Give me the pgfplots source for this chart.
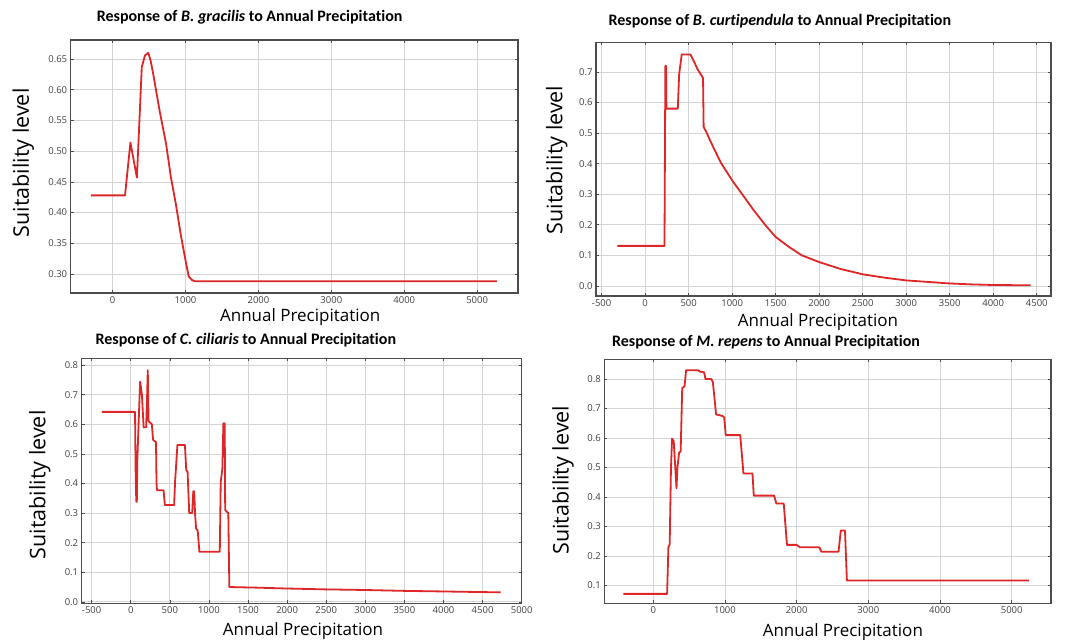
\documentclass[border=0pt]{standalone}
\usepackage{pgfplots}
\pgfplotsset{compat=1.18}
\usepackage{fontspec}
\setmainfont{Open Sans}
\newfontfamily\titlefont[Ligatures=NoCommon]{Carlito}

\definecolor{curvered}{RGB}{222,38,38}

\pgfplotsset{
  panel/.style={
    scale only axis,
    anchor=south west,
    axis line style={black!70, line width=1.1pt},
    grid=major,
    major grid style={black!17, line width=0.7pt},
    tick align=inside,
    major tick length=3pt,
    tick style={black!70, line width=0.6pt},
    ticklabel style={font=\fontsize{9.5}{10}\selectfont, text=black!75},
    xlabel style={font=\fontsize{17}{19}\selectfont, anchor=center},
    ylabel style={font=\fontsize{21.5}{23}\selectfont, anchor=center},
    title style={font=\titlefont\bfseries\fontsize{16}{18}\selectfont, anchor=center},
    xlabel={Annual Precipitation},
    ylabel={Suitability level},
  },
  curve/.style={color=curvered, line width=1.8pt, line join=round, no markers},
}

\begin{document}
\begin{tikzpicture}
\useasboundingbox (0,0) rectangle (1075pt,643pt);

% top left: B. gracilis
\begin{axis}[panel,
    at={(70.7pt,350pt)}, width=447.3pt, height=253pt,
    xmin=-575, xmax=5560, ymin=0.269, ymax=0.681,
    xtick={0,1000,2000,3000,4000,5000},
    xticklabels={0,1000,2000,3000,4000,5000},
    ytick={0.30,0.35,0.40,0.45,0.50,0.55,0.60,0.65},
    yticklabels={0.30,0.35,0.40,0.45,0.50,0.55,0.60,0.65},
    title={Response of \textit{B. gracilis} to Annual Precipitation},
    title style={at={(axis description cs:0.40,1)}, yshift=17pt},
    xlabel style={at={(axis description cs:0.513,0)}, yshift=-24pt},
    ylabel style={at={(axis description cs:-0.106,0.514)}},
  ]
\addplot[curve] coordinates {
(-300,0.428) (170,0.428) (244,0.514) (333,0.457) (400,0.637) (444,0.656)
(489,0.660) (520,0.648) (556,0.626) (644,0.566) (733,0.512) (800,0.457)
(867,0.414) (933,0.365) (1000,0.322) (1044,0.296) (1090,0.290) (1133,0.288)
(5270,0.288)
};
\end{axis}

% top right: B. curtipendula
\begin{axis}[panel,
    at={(596pt,347pt)}, width=455pt, height=253.7pt,
    xmin=-565, xmax=4664, ymin=-0.033, ymax=0.797,
    xtick={-500,0,500,1000,1500,2000,2500,3000,3500,4000,4500},
    xticklabels={-500,0,500,1000,1500,2000,2500,3000,3500,4000,4500},
    ytick={0,0.1,0.2,0.3,0.4,0.5,0.6,0.7},
    yticklabels={0.0,0.1,0.2,0.3,0.4,0.5,0.6,0.7},
    title={Response of \textit{B. curtipendula} to Annual Precipitation},
    title style={at={(axis description cs:0.404,1)}, yshift=15pt},
    xlabel style={at={(axis description cs:0.488,0)}, yshift=-26pt},
    ylabel style={at={(axis description cs:-0.086,0.536)}},
  ]
\addplot[curve] coordinates {
(-320,0.131) (222,0.131) (232,0.72) (240,0.72) (244,0.58) (375,0.58)
(390,0.69) (398,0.71) (420,0.757) (520,0.757) (560,0.735) (600,0.71)
(665,0.68) (672,0.52) (700,0.505) (759,0.468) (870,0.403) (1000,0.345)
(1130,0.294) (1241,0.250) (1389,0.196) (1500,0.160) (1650,0.128)
(1800,0.100) (2000,0.078) (2250,0.055) (2500,0.038) (2750,0.027)
(3000,0.018) (3250,0.013) (3500,0.008) (3750,0.005) (4000,0.003)
(4430,0.002)
};
\end{axis}

% bottom left: C. ciliaris
\begin{axis}[panel,
    at={(81.7pt,39.7pt)}, width=440pt, height=245pt,
    xmin=-627, xmax=5000, ymin=-0.005, ymax=0.823,
    xtick={-500,0,500,1000,1500,2000,2500,3000,3500,4000,4500,5000},
    xticklabels={-500,0,500,1000,1500,2000,2500,3000,3500,4000,4500,5000},
    ytick={0,0.1,0.2,0.3,0.4,0.5,0.6,0.7,0.8},
    yticklabels={0.0,0.1,0.2,0.3,0.4,0.5,0.6,0.7,0.8},
    title={Response of \textit{C. ciliaris} to Annual Precipitation},
    title style={at={(axis description cs:0.373,1)}, yshift=12pt},
    xlabel style={at={(axis description cs:0.503,0)}, yshift=-28pt},
    ylabel style={at={(axis description cs:-0.095,0.483)}},
  ]
\addplot[curve] coordinates {
(-370,0.642) (55,0.642) (62,0.45) (71,0.338) (78,0.338) (85,0.485)
(120,0.744) (143,0.70) (165,0.59) (197,0.59) (210,0.70) (218,0.783)
(228,0.61) (260,0.603) (270,0.60) (285,0.55) (290,0.546) (323,0.54)
(330,0.40) (336,0.377) (420,0.377) (437,0.327) (555,0.327) (567,0.405)
(597,0.53) (693,0.53) (710,0.445) (727,0.44) (748,0.30) (786,0.30)
(800,0.374) (812,0.374) (822,0.30) (836,0.248) (857,0.24) (878,0.169)
(1139,0.169) (1151,0.405) (1172,0.45) (1185,0.603) (1202,0.603)
(1208,0.31) (1248,0.30) (1261,0.05) (1600,0.048) (2000,0.045)
(2500,0.042) (3000,0.040) (3500,0.037) (4000,0.035) (4730,0.032)
};
\end{axis}

% bottom right: M. repens
\begin{axis}[panel,
    at={(604.3pt,39.7pt)}, width=446.7pt, height=244pt,
    xmin=-683, xmax=5548, ymin=0.040, ymax=0.867,
    xtick={0,1000,2000,3000,4000,5000},
    xticklabels={0,1000,2000,3000,4000,5000},
    ytick={0.1,0.2,0.3,0.4,0.5,0.6,0.7,0.8},
    yticklabels={0.1,0.2,0.3,0.4,0.5,0.6,0.7,0.8},
    title={Response of \textit{M. repens} to Annual Precipitation},
    title style={at={(axis description cs:0.362,1)}, yshift=11pt},
    xlabel style={at={(axis description cs:0.534,0)}, yshift=-29pt},
    ylabel style={at={(axis description cs:-0.0925,0.505)}},
  ]
\addplot[curve] coordinates {
(-418,0.072) (193,0.072) (211,0.23) (229,0.24) (247,0.50) (262,0.598)
(285,0.59) (324,0.43) (337,0.50) (360,0.55) (382,0.555) (404,0.77)
(436,0.775) (458,0.83) (629,0.83) (652,0.825) (710,0.823) (728,0.80)
(809,0.80) (831,0.79) (854,0.735) (876,0.68) (966,0.675) (989,0.67)
(1011,0.61) (1213,0.61) (1258,0.48) (1384,0.48) (1402,0.405)
(1685,0.405) (1717,0.378) (1820,0.378) (1865,0.238) (2000,0.238)
(2045,0.23) (2315,0.23) (2346,0.215) (2584,0.215) (2616,0.287)
(2674,0.287) (2701,0.117) (5244,0.117)
};
\end{axis}
\end{tikzpicture}
\end{document}
